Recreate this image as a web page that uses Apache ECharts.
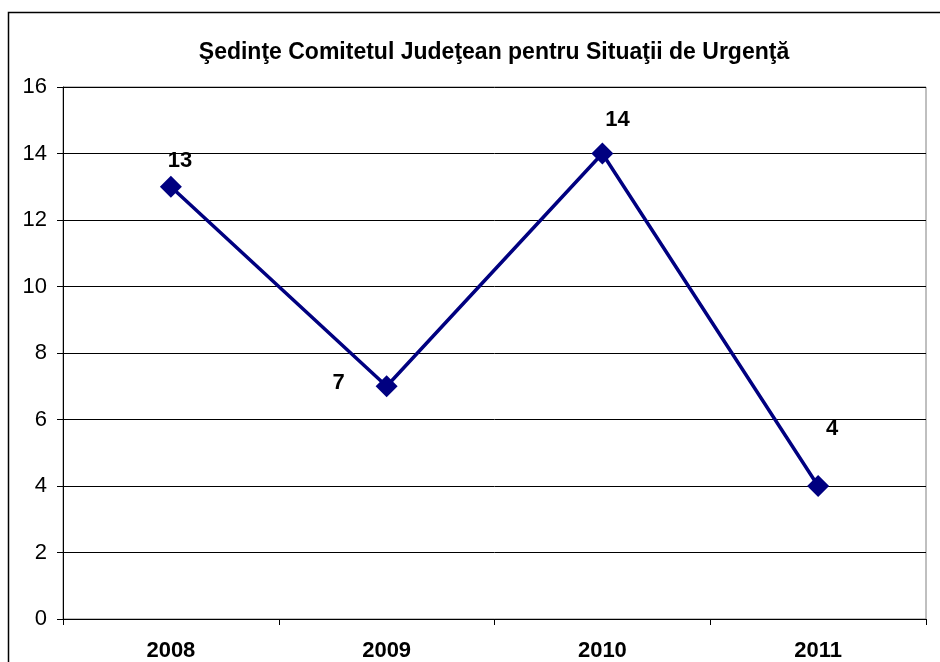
<!DOCTYPE html>
<html>
<head>
<meta charset="utf-8">
<script src="https://cdn.jsdelivr.net/npm/echarts@6/dist/echarts.min.js"></script>
<style>
  html, body { margin: 0; padding: 0; background: #fff; overflow: hidden; }
  #chart { width: 940px; height: 662px; }
</style>
</head>
<body>
<div id="chart"></div>
<script>
var years = ['2008', '2009', '2010', '2011'];
var sedinte = [13, 7, 14, 4];
// where each value label sits relative to its marker
var labelPos = [[9, -26], [-48, -3], [15, -34], [14, -57]];

var myChart = echarts.init(document.getElementById('chart'));

var points = [];
for (var i = 0; i < sedinte.length; i++) {
    points.push({
        value: sedinte[i],
        label: { offset: labelPos[i] }
    });
}

myChart.setOption({
    animation: false,
    textStyle: { fontFamily: 'Liberation Sans, Arial, sans-serif' },
    title: {
        text: 'Şedinţe Comitetul Judeţean pentru Situaţii de Urgenţă',
        left: 489,
        textAlign: 'center',
        top: 36,
        textStyle: { fontSize: 23, fontWeight: 'bold', color: '#000' }
    },
    graphic: [{
        type: 'polyline',
        shape: { points: [[8.5, 700], [8.5, 12.5], [1200, 12.5]] },
        style: { fill: 'none', stroke: '#000', lineWidth: 1.5 },
        silent: true
    }],
    grid: {
        left: 63, right: 14, top: 87, bottom: 42,
        show: true,
        backgroundColor: '#fff',
        borderColor: '#808080',
        borderWidth: 1
    },
    xAxis: {
        type: 'category',
        data: years,
        boundaryGap: true,
        axisLine: { lineStyle: { color: '#000', width: 1 } },
        axisTick: { show: true, length: 6, inside: false, lineStyle: { color: '#000' } },
        axisLabel: { fontSize: 22, fontWeight: 'bold', color: '#000', margin: 21 }
    },
    yAxis: {
        type: 'value',
        min: 0,
        max: 16,
        interval: 2,
        axisLine: { show: true, lineStyle: { color: '#000', width: 1 } },
        axisTick: { show: true, length: 6, lineStyle: { color: '#000' } },
        axisLabel: { fontSize: 22, color: '#000', margin: 16 },
        splitLine: { show: true, lineStyle: { color: '#000', width: 1 } }
    },
    series: [{
        name: 'Şedinţe',
        type: 'line',
        data: points,
        symbol: 'diamond',
        symbolSize: [22, 22],
        lineStyle: { color: '#000080', width: 3.5 },
        itemStyle: { color: '#000080' },
        label: {
            show: true,
            position: 'inside',
            fontSize: 22,
            fontWeight: 'bold',
            color: '#000'
        }
    }]
});
</script>
</body>
</html>
